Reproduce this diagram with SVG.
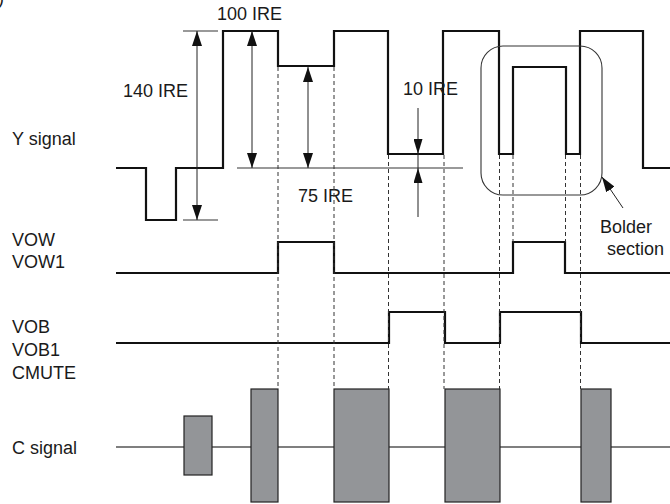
<svg xmlns="http://www.w3.org/2000/svg" width="670" height="504" viewBox="0 0 670 504">
<defs>
<style>
text{font-family:"Liberation Sans",Arial,sans-serif;font-size:18px;fill:#1a1a1a}
.wave{fill:none;stroke:#111;stroke-width:2.2;stroke-linejoin:miter}
.dim{fill:none;stroke:#222;stroke-width:1}
.ext{fill:none;stroke:#777;stroke-width:1.3}
.dash{fill:none;stroke:#333;stroke-width:1;stroke-dasharray:4 3}
.burst{fill:#939598;stroke:#222;stroke-width:1.2}
.cline{fill:none;stroke:#555;stroke-width:1.5}
</style>
<marker id="ah" markerUnits="userSpaceOnUse" markerWidth="15" markerHeight="10" refX="15" refY="5" orient="auto-start-reverse" viewBox="0 0 15 10">
<path d="M0,0 L15,5 L0,10 z" fill="#111"/>
</marker>
<marker id="ahs" markerUnits="userSpaceOnUse" markerWidth="15" markerHeight="9" refX="15" refY="4.5" orient="auto-start-reverse" viewBox="0 0 15 9">
<path d="M0,0 L15,4.5 L0,9 z" fill="#111"/>
</marker>
</defs>
<rect width="670" height="504" fill="#fff"/>
<text x="-2" y="4">)</text>

<g id="labels">
<text x="12" y="145">Y signal</text>
<text x="12" y="246">VOW</text>
<text x="12" y="268">VOW1</text>
<text x="12" y="333">VOB</text>
<text x="12" y="356">VOB1</text>
<text x="12" y="379">CMUTE</text>
<text x="12" y="454">C signal</text>
</g>

<g id="y-signal">
<path class="wave" d="M116,168 H146 V220 H176 V168 H223 V31 H278 V66 H334 V31 H388 V154 H443 V31 H499 V154 H513 V67 H566 V154 H580 V31 H643 V168 H670"/>
</g>

<g id="vow">
<path class="wave" d="M116,273 H278 V242 H334 V273 H513 V242 H565 V273 H670"/>
</g>

<g id="vob">
<path class="wave" d="M116,343 H389 V312 H445 V343 H500 V312 H581 V343 H670"/>
</g>

<g id="c-signal">
<line class="cline" x1="116" y1="447" x2="670" y2="447"/>
<rect class="burst" x="184" y="416" width="28" height="59"/>
<rect class="burst" x="251" y="389" width="27" height="113"/>
<rect class="burst" x="334" y="389" width="55" height="113"/>
<rect class="burst" x="445" y="389" width="55" height="113"/>
<rect class="burst" x="581" y="389" width="30" height="113"/>
</g>

<g id="bolder-section">
<rect x="481" y="46" width="121" height="149" rx="22" ry="22" fill="none" stroke="#333" stroke-width="1.1"/>
<text x="600" y="233">Bolder</text>
<text x="607" y="255">section</text>
</g>

<g id="dim-labels">
<text x="123" y="97">140 IRE</text>
<text x="217" y="20">100 IRE</text>
<text x="298" y="202">75 IRE</text>
<text x="403" y="95">10 IRE</text>
</g>

<g id="connectors">
<line class="ext" x1="183" y1="31" x2="218" y2="31"/>
<line class="ext" x1="183" y1="220" x2="218" y2="220"/>
<line class="ext" x1="237" y1="168" x2="463" y2="168"/>
<line class="dim" x1="197" y1="31" x2="197" y2="220" marker-start="url(#ah)" marker-end="url(#ah)"/>
<line class="dim" x1="252" y1="31" x2="252" y2="168" marker-start="url(#ah)" marker-end="url(#ah)"/>
<line class="dim" x1="308" y1="67" x2="308" y2="168" marker-start="url(#ah)" marker-end="url(#ah)"/>
<line class="dim" x1="418" y1="108" x2="418" y2="154" marker-end="url(#ahs)"/>
<line class="dim" x1="418" y1="154" x2="418" y2="168"/>
<line class="dim" x1="418" y1="217" x2="418" y2="168" marker-end="url(#ahs)"/>
<line class="dim" x1="623" y1="208" x2="602" y2="177" marker-end="url(#ah)"/>
<line class="dash" x1="278" y1="67" x2="278" y2="389"/>
<line class="dash" x1="334" y1="67" x2="334" y2="389"/>
<line class="dash" x1="388.5" y1="155" x2="388.5" y2="389"/>
<line class="dash" x1="444" y1="155" x2="444" y2="389"/>
<line class="dash" x1="499.5" y1="155" x2="499.5" y2="389"/>
<line class="dash" x1="513" y1="155" x2="513" y2="242"/>
<line class="dash" x1="565.5" y1="155" x2="565.5" y2="242"/>
<line class="dash" x1="580.5" y1="155" x2="580.5" y2="389"/>
</g>
</svg>
